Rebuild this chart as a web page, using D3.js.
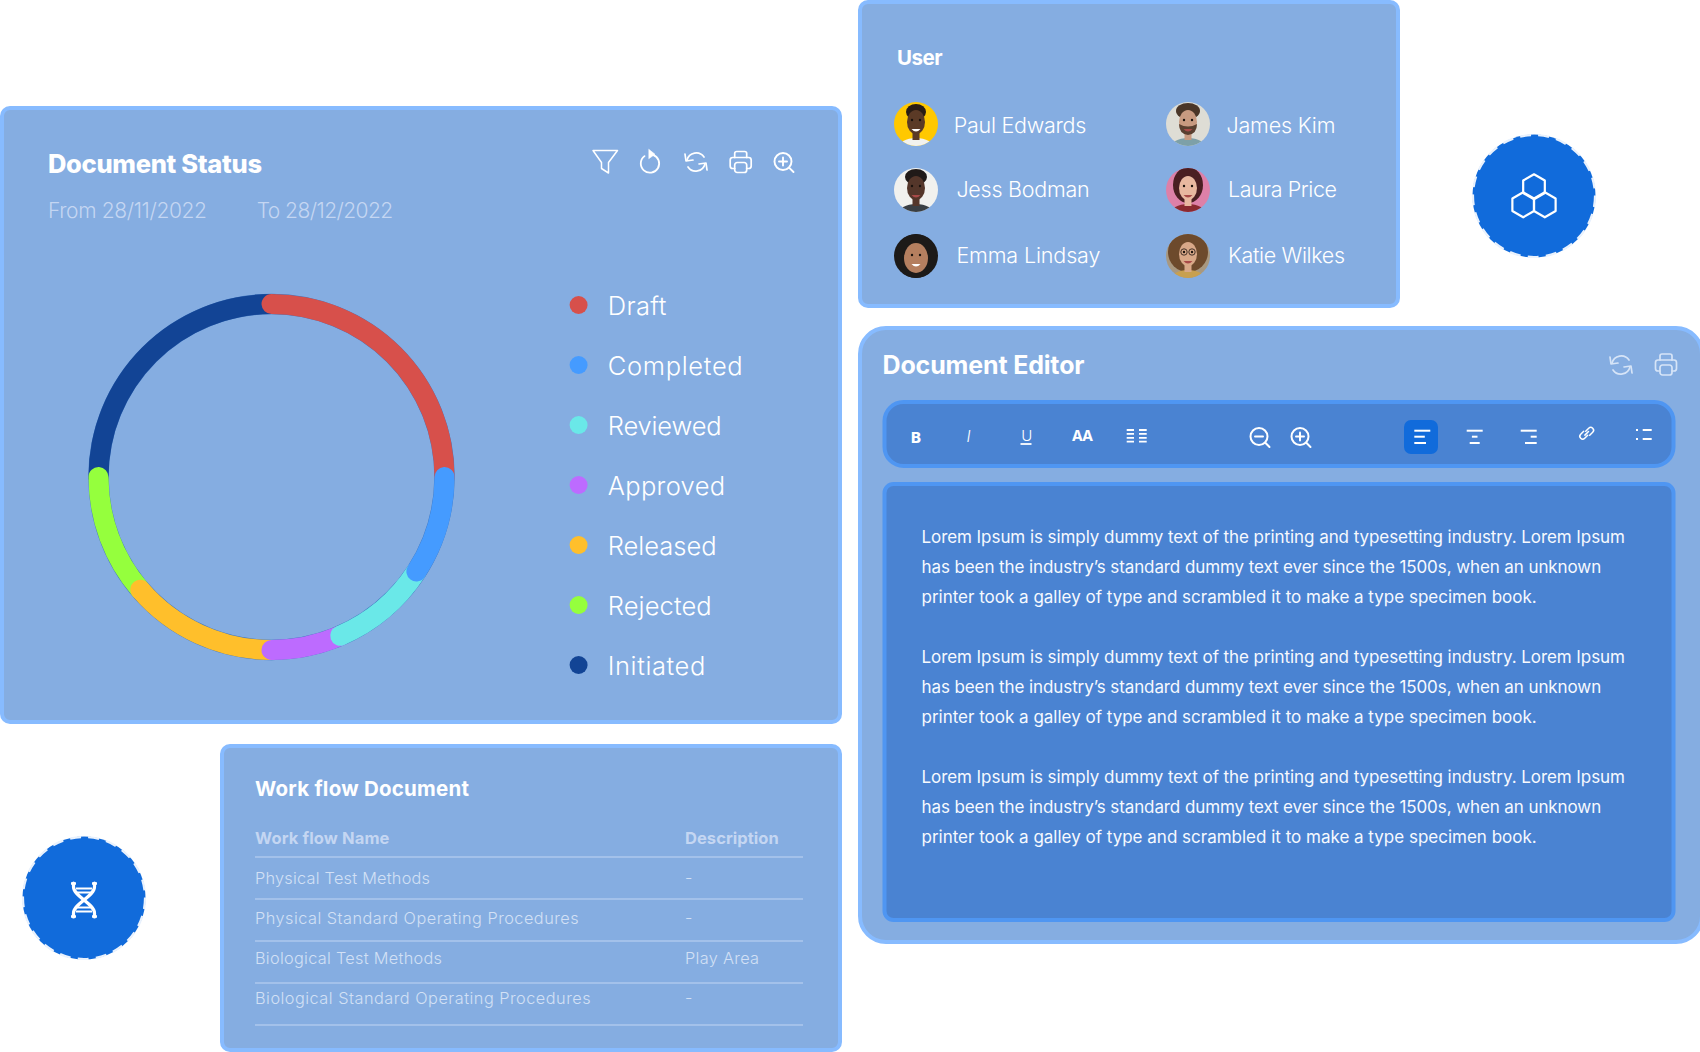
<!DOCTYPE html>
<html><head><meta charset="utf-8">
<script src="https://cdn.jsdelivr.net/npm/d3@7"></script>
<style>html,body{margin:0;padding:0;background:#fff;overflow:hidden}svg{display:block}</style>
</head><body><div id="c"></div>
<script>
// ---------- data ----------
const statusNames = ["Draft","Completed","Reviewed","Approved","Released","Rejected","Initiated"];
const statusValues = [25, 9.2, 9.3, 6.5, 13.7, 11.3, 25];
const statusColors = ["#D7504B","#459BFF","#6AE8E8","#BD6BFF","#FFBF2B","#95FF3D","#124495"];
const dateLabels = ["From 28/11/2022","To 28/12/2022"];
const userNames = ["Paul Edwards","Jess Bodman","Emma Lindsay","James Kim","Laura Price","Katie Wilkes"];
const workflowNames = ["Physical Test Methods","Physical Standard Operating Procedures","Biological Test Methods","Biological Standard Operating Procedures"];
const workflowDescriptions = ["-","-","Play Area","-"];
const loremLines = ["Lorem Ipsum is simply dummy text of the printing and typesetting industry. Lorem Ipsum","has been the industry\u2019s standard dummy text ever since the 1500s, when an unknown","printer took a galley of type and scrambled it to make a type specimen book."];

// ---------- layout (kept apart from the data) ----------
const FONT = "Inter, 'Noto Sans', sans-serif";
const CARD = "#85ADE1", EDGE = "#87BBFF", DARK = "#4A83D2", DARKEDGE = "#4F96F2", ROYAL = "#116BDB", MUTED = "#C4D6F2";
const legendWidths = [58.7,135,114,117.4,109,104,97.6];
const userLayout = [[916,124,953.7,132.7,132.5],[916,190,956.4,133.3,196.5],[916,256,956.4,144,262.5],[1188,124,1226.4,109,132.5],[1188,190,1228,109,196.5],[1188,256,1228,117,262.5]];
const workflowWidths = [175,323.6,187,335.6];
const descWidths = [7,7,74,7];
const loremWidths = [703.5,679.7,615.2];

const svg = d3.select("#c").append("svg").attr("width",1700).attr("height",1052).attr("viewBox","0 0 1700 1052");
svg.append("rect").attr("width",1700).attr("height",1052).attr("fill","#fff");
const defs = svg.append("defs");

function card(x0,y0,x1,y1,r,fill,edge){
  svg.append("rect").attr("x",x0+2).attr("y",y0+2).attr("width",x1-x0-4).attr("height",y1-y0-4)
    .attr("rx",r).attr("fill",fill||CARD).attr("stroke",edge||EDGE).attr("stroke-width",4);
}
function label(str,x,y,size,weight,fill,width){
  const t = svg.append("text").attr("x",x).attr("y",y).attr("font-family",FONT)
    .attr("font-size",size).attr("font-weight",weight).attr("fill",fill).text(str);
  if(width){t.attr("textLength",width).attr("lengthAdjust","spacing");}
  return t;
}
function icon(x,y,sw,color){
  return svg.append("g").attr("transform",`translate(${x},${y})`).attr("fill","none")
    .attr("stroke",color||"#fff").attr("stroke-width",sw||1.6).attr("stroke-linecap","round").attr("stroke-linejoin","round");
}
function syncIcon(x,y,color){
  const g = icon(x,y,1.7,color);
  g.append("path").attr("d","M-9 -2 A9.5 9.5 0 0 1 8 -5");
  g.append("path").attr("d","M9 2 A9.5 9.5 0 0 1 -8 5");
  g.append("path").attr("d","M-11 -8 L-10 -1 L-3 -2");
  g.append("path").attr("d","M11 8 L10 1 L3 2");
}
function printerIcon(x,y,color){
  const g = icon(x,y,1.7,color);
  g.append("path").attr("d","M-6 -5 V-9 Q-6 -11 -4 -11 H4 Q6 -11 6 -9 V-5");
  g.append("path").attr("d","M-6 6 H-8 Q-10.5 6 -10.5 3.5 V-2.5 Q-10.5 -5 -8 -5 H8 Q10.5 -5 10.5 -2.5 V3.5 Q10.5 6 8 6 H6");
  g.append("rect").attr("x",-6).attr("y",0).attr("width",12).attr("height",10).attr("rx",2.5);
}
function lensIcon(x,y,plus,sw){
  const g = icon(x,y,sw||1.9);
  g.append("circle").attr("r",8.5);
  g.append("path").attr("d","M-4 0 H4");
  if(plus) g.append("path").attr("d","M0 -4 V4");
  g.append("path").attr("d","M6.3 6.3 L10.5 10.5");
}

// ---------- Document Status card ----------
card(0,106,842,724,8);
label("Document Status",48,172.6,25.5,800,"#fff",214);
label(dateLabels[0],48,217.8,21,300,MUTED,159);
label(dateLabels[1],256.7,217.8,21,300,MUTED,136.5);

// toolbar icons
icon(0,0,1.5).append("path").attr("d","M593 150.5 H617.5 L608.5 162.5 V173 L601.5 168.5 V162.5 Z");
const rot = icon(650,163.5,1.8);
rot.append("path").attr("d","M3 -8.7 A9.2 9.2 0 1 1 -5.5 -7.4");
rot.append("path").attr("d","M-1 -14 L5 -9.2 L-1 -5 Z").attr("fill","#fff").attr("stroke-width",0.6);
syncIcon(696,162);
printerIcon(740.7,162.5);
lensIcon(783,161.5,true);

// ring
const cx = 271.5, cy = 477, Ro = 183, Ri = 163, capAngle = 10/173;
const pie = d3.pie().value(d=>d.v).sort(null);
const arcs = pie(statusNames.map((n,i)=>({n,v:statusValues[i],c:statusColors[i]})));
const ring = svg.append("g").attr("transform",`translate(${cx},${cy})`);
ring.append("circle").attr("r",(Ro+Ri)/2).attr("fill","none").attr("stroke","#3E74BD").attr("stroke-width",Ro-Ri+0.4);
const arcGen = d3.arc().innerRadius(Ri).outerRadius(Ro).cornerRadius(10)
  .startAngle(d=>d.startAngle-capAngle).endAngle(d=>d.endAngle+capAngle);
// paint order: each slice's rounded end lies over its neighbour
const paintOrder = ["Initiated","Draft","Rejected","Released","Approved","Reviewed","Completed"];
ring.selectAll("path").data(paintOrder.map(n=>arcs.find(a=>a.data.n===n))).join("path")
  .attr("d",arcGen).attr("fill",d=>d.data.c);

// legend
const legendY = d3.scalePoint().domain(statusNames).range([305,665]);
statusNames.forEach((n,i)=>{
  svg.append("circle").attr("cx",578.6).attr("cy",legendY(n)).attr("r",9).attr("fill",statusColors[i]);
  label(n,607.7,legendY(n)+10,25.5,300,"#fff",legendWidths[i]);
});

// ---------- User card ----------
card(858,0,1400,308,8);
label("User",897,64.5,20.5,700,"#fff",45.5);
const faces = [
 {bg:"#FFC800",hair:"#2a1c14",hr:[10,8,-12],skin:"#5b3a26",shirt:"#f2f2ee",smile:1},
 {bg:"#F1F1EE",hair:"#201a18",hr:[11,8,-13],skin:"#54362a",shirt:"#3a3f44",smile:0},
 {bg:"#1d1a18",hair:"#1d1a18",hr:[20,20,-2],skin:"#b57f5f",shirt:"#1d1a18",smile:1,big:1},
 {bg:"#DEDDD5",hair:"#4a3628",hr:[12,8,-13],skin:"#c89a80",shirt:"#7da0a8",smile:0,beard:"#5a4030"},
 {bg:"#DD80A8",hair:"#4a1f22",hr:[15,18,-5],skin:"#e8b8a0",shirt:"#8a2a30",smile:0},
 {bg:"#A89880",hair:"#6d4a2c",hr:[20,20,-4],skin:"#d8a888",shirt:"#c8a050",smile:0,glasses:1}
];
userNames.forEach((n,i)=>{
  const [ax,ay,tx,tw,ty] = userLayout[i], f = faces[i], id = "av"+i;
  defs.append("clipPath").attr("id",id).append("circle").attr("r",22);
  const g = svg.append("g").attr("transform",`translate(${ax},${ay})`).attr("clip-path",`url(#${id})`);
  g.append("rect").attr("x",-22).attr("y",-22).attr("width",44).attr("height",44).attr("fill",f.bg);
  g.append("ellipse").attr("cx",0).attr("cy",f.hr[2]).attr("rx",f.hr[0]).attr("ry",f.hr[1]).attr("fill",f.hair);
  g.append("ellipse").attr("cx",0).attr("cy",24).attr("rx",18).attr("ry",10).attr("fill",f.shirt);
  g.append("rect").attr("x",-3.5).attr("y",6).attr("width",7).attr("height",10).attr("fill",f.skin);
  g.append("ellipse").attr("cx",0).attr("cy",f.big?2:-2).attr("rx",f.big?12:9).attr("ry",f.big?15:12).attr("fill",f.skin);
  if(f.beard) g.append("path").attr("d","M-9 0 Q0 5 9 0 Q9 10 0 11 Q-9 10 -9 0").attr("fill",f.beard);
  const ey = f.big?-1:-4;
  g.append("circle").attr("cx",-4).attr("cy",ey).attr("r",1.2).attr("fill","#1a120e");
  g.append("circle").attr("cx",4).attr("cy",ey).attr("r",1.2).attr("fill","#1a120e");
  if(f.glasses){
    g.append("circle").attr("cx",-4).attr("cy",ey).attr("r",3.2).attr("fill","none").attr("stroke","#33261e").attr("stroke-width",0.9);
    g.append("circle").attr("cx",4).attr("cy",ey).attr("r",3.2).attr("fill","none").attr("stroke","#33261e").attr("stroke-width",0.9);
  }
  g.append("path").attr("d",`M-4.5 ${ey+9} Q0 ${ey+14} 4.5 ${ey+9} Z`).attr("fill",f.smile?"#fff":"#a84a48");
  label(n,tx,ty,21.5,300,"#fff",tw);
});

// ---------- Badges ----------
function badge(x,y){
  svg.append("circle").attr("cx",x).attr("cy",y).attr("r",61.5).attr("fill",ROYAL);
  svg.append("circle").attr("cx",x).attr("cy",y).attr("r",61).attr("fill","none")
    .attr("stroke","#EAF2FD").attr("stroke-width",2.2).attr("stroke-dasharray","11 7.2");
}
badge(1534,196);
const hexR = 12.5, hexPts = d3.range(6).map(k=>{const a=Math.PI/3*k;return [hexR*Math.sin(a),-hexR*Math.cos(a)];});
const hexLine = d3.line().curve(d3.curveLinearClosed);
[[1534,186.8],[1523.2,204.8],[1544.8,204.8]].forEach(([x,y])=>{
  icon(x,y,2.2).append("path").attr("d",hexLine(hexPts));
});
badge(84,898);
const dna = icon(84,900,3.2);
dna.append("path").attr("d","M-13 -16.5 H-8 M8 -16.5 H13 M-13 16.5 H-8 M8 16.5 H13").attr("stroke-linecap","butt").attr("stroke-width",2.4);
dna.append("path").attr("d","M-10.5 -17 V-13 C-10.5 -4 10.5 4 10.5 13 V17");
dna.append("path").attr("d","M10.5 -17 V-13 C10.5 -4 -10.5 4 -10.5 13 V17");
dna.append("path").attr("d","M-8 -11.5 H8 M-7 -7.5 H7 M-7 7.5 H7 M-8 11.5 H8").attr("stroke-width",1.8).attr("stroke-linecap","butt");

// ---------- Work flow card ----------
card(220,744,842,1052,8);
label("Work flow Document",255,796,20.5,700,"#fff",214);
label("Work flow Name",255,844,16.5,700,MUTED,134.4);
label("Description",685,844,16.5,700,MUTED,93.8);
const rowY = d3.scalePoint().domain(workflowNames).range([884.3,1004.3]);
const lineY = d3.scalePoint().domain(d3.range(5)).range([857,1025]);
d3.range(5).forEach(k=>{
  svg.append("line").attr("x1",255).attr("x2",803).attr("y1",lineY(k)).attr("y2",lineY(k))
    .attr("stroke","#A3C1EA").attr("stroke-width",2);
});
workflowNames.forEach((n,i)=>{
  label(n,255,rowY(n),16.3,300,"#D2E0F5",workflowWidths[i]);
  label(workflowDescriptions[i],685,rowY(n),16.3,300,"#D2E0F5",descWidths[i]);
});

// ---------- Document Editor ----------
card(858,326,1704,944,26);
label("Document Editor",882.5,374.3,25,700,"#fff",202);
syncIcon(1621,365,"#D6E4F7");
printerIcon(1666,365,"#D6E4F7");
card(882.5,400,1675.5,468,19,DARK,DARKEDGE);
card(882.5,482,1675.5,922,9,DARK,DARKEDGE);

label("B",911,442.7,15,800,"#fff");
label("I",966.5,441.7,15.5,300,"#fff").attr("font-style","italic");
label("U",1021.3,440.8,15,300,"#fff");
icon(0,0,1.8).append("path").attr("d","M1020.5 444 H1031.5").attr("stroke-linecap","butt");
label("AA",1071.7,441,15,700,"#fff",21.5);
const cols = icon(0,0,1.8);
[430,433.9,437.8,441.7].forEach(y=>{
  cols.append("path").attr("d",`M1126.7 ${y} H1134 M1139 ${y} H1146.7`).attr("stroke-linecap","butt");
});
lensIcon(1259,436.5,false,2);
lensIcon(1300,436.5,true,2);
svg.append("rect").attr("x",1404).attr("y",420).attr("width",34).attr("height",34).attr("rx",7).attr("fill",ROYAL);
function alignIcon(x,w2,w3,side){
  const g = icon(0,0,2);
  [[430.7,16],[436.7,w2],[443,w3]].forEach(([y,w])=>{
    const x0 = x + (side==="l"?0:side==="c"?(16-w)/2:16-w);
    g.append("path").attr("d",`M${x0} ${y} H${x0+w}`).attr("stroke-linecap","butt");
  });
}
alignIcon(1414.3,10.5,11.7,"l");
alignIcon(1466.7,5.6,10,"c");
alignIcon(1520.7,6,11.7,"r");
const link = icon(1586.7,433.3,1.5);
link.append("path").attr("d","M-1 -2 L2 -5 A2.8 2.8 0 0 1 6 -1 L3 2");
link.append("path").attr("d","M1 2 L-2 5 A2.8 2.8 0 0 1 -6 1 L-3 -2");
link.append("path").attr("d","M-1.8 1.8 L1.8 -1.8");
const list = icon(0,0,2);
[430,439].forEach(y=>{
  list.append("path").attr("d",`M1636 ${y} H1638 M1642.7 ${y} H1651.7`).attr("stroke-linecap","butt");
});

const paraBase = [543.2,663.2,783.2];
paraBase.forEach(b=>{
  loremLines.forEach((t,i)=>{
    label(t,921.5,b+i*30,17,400,"#F6F9FE",loremWidths[i]);
  });
});
</script></body></html>
